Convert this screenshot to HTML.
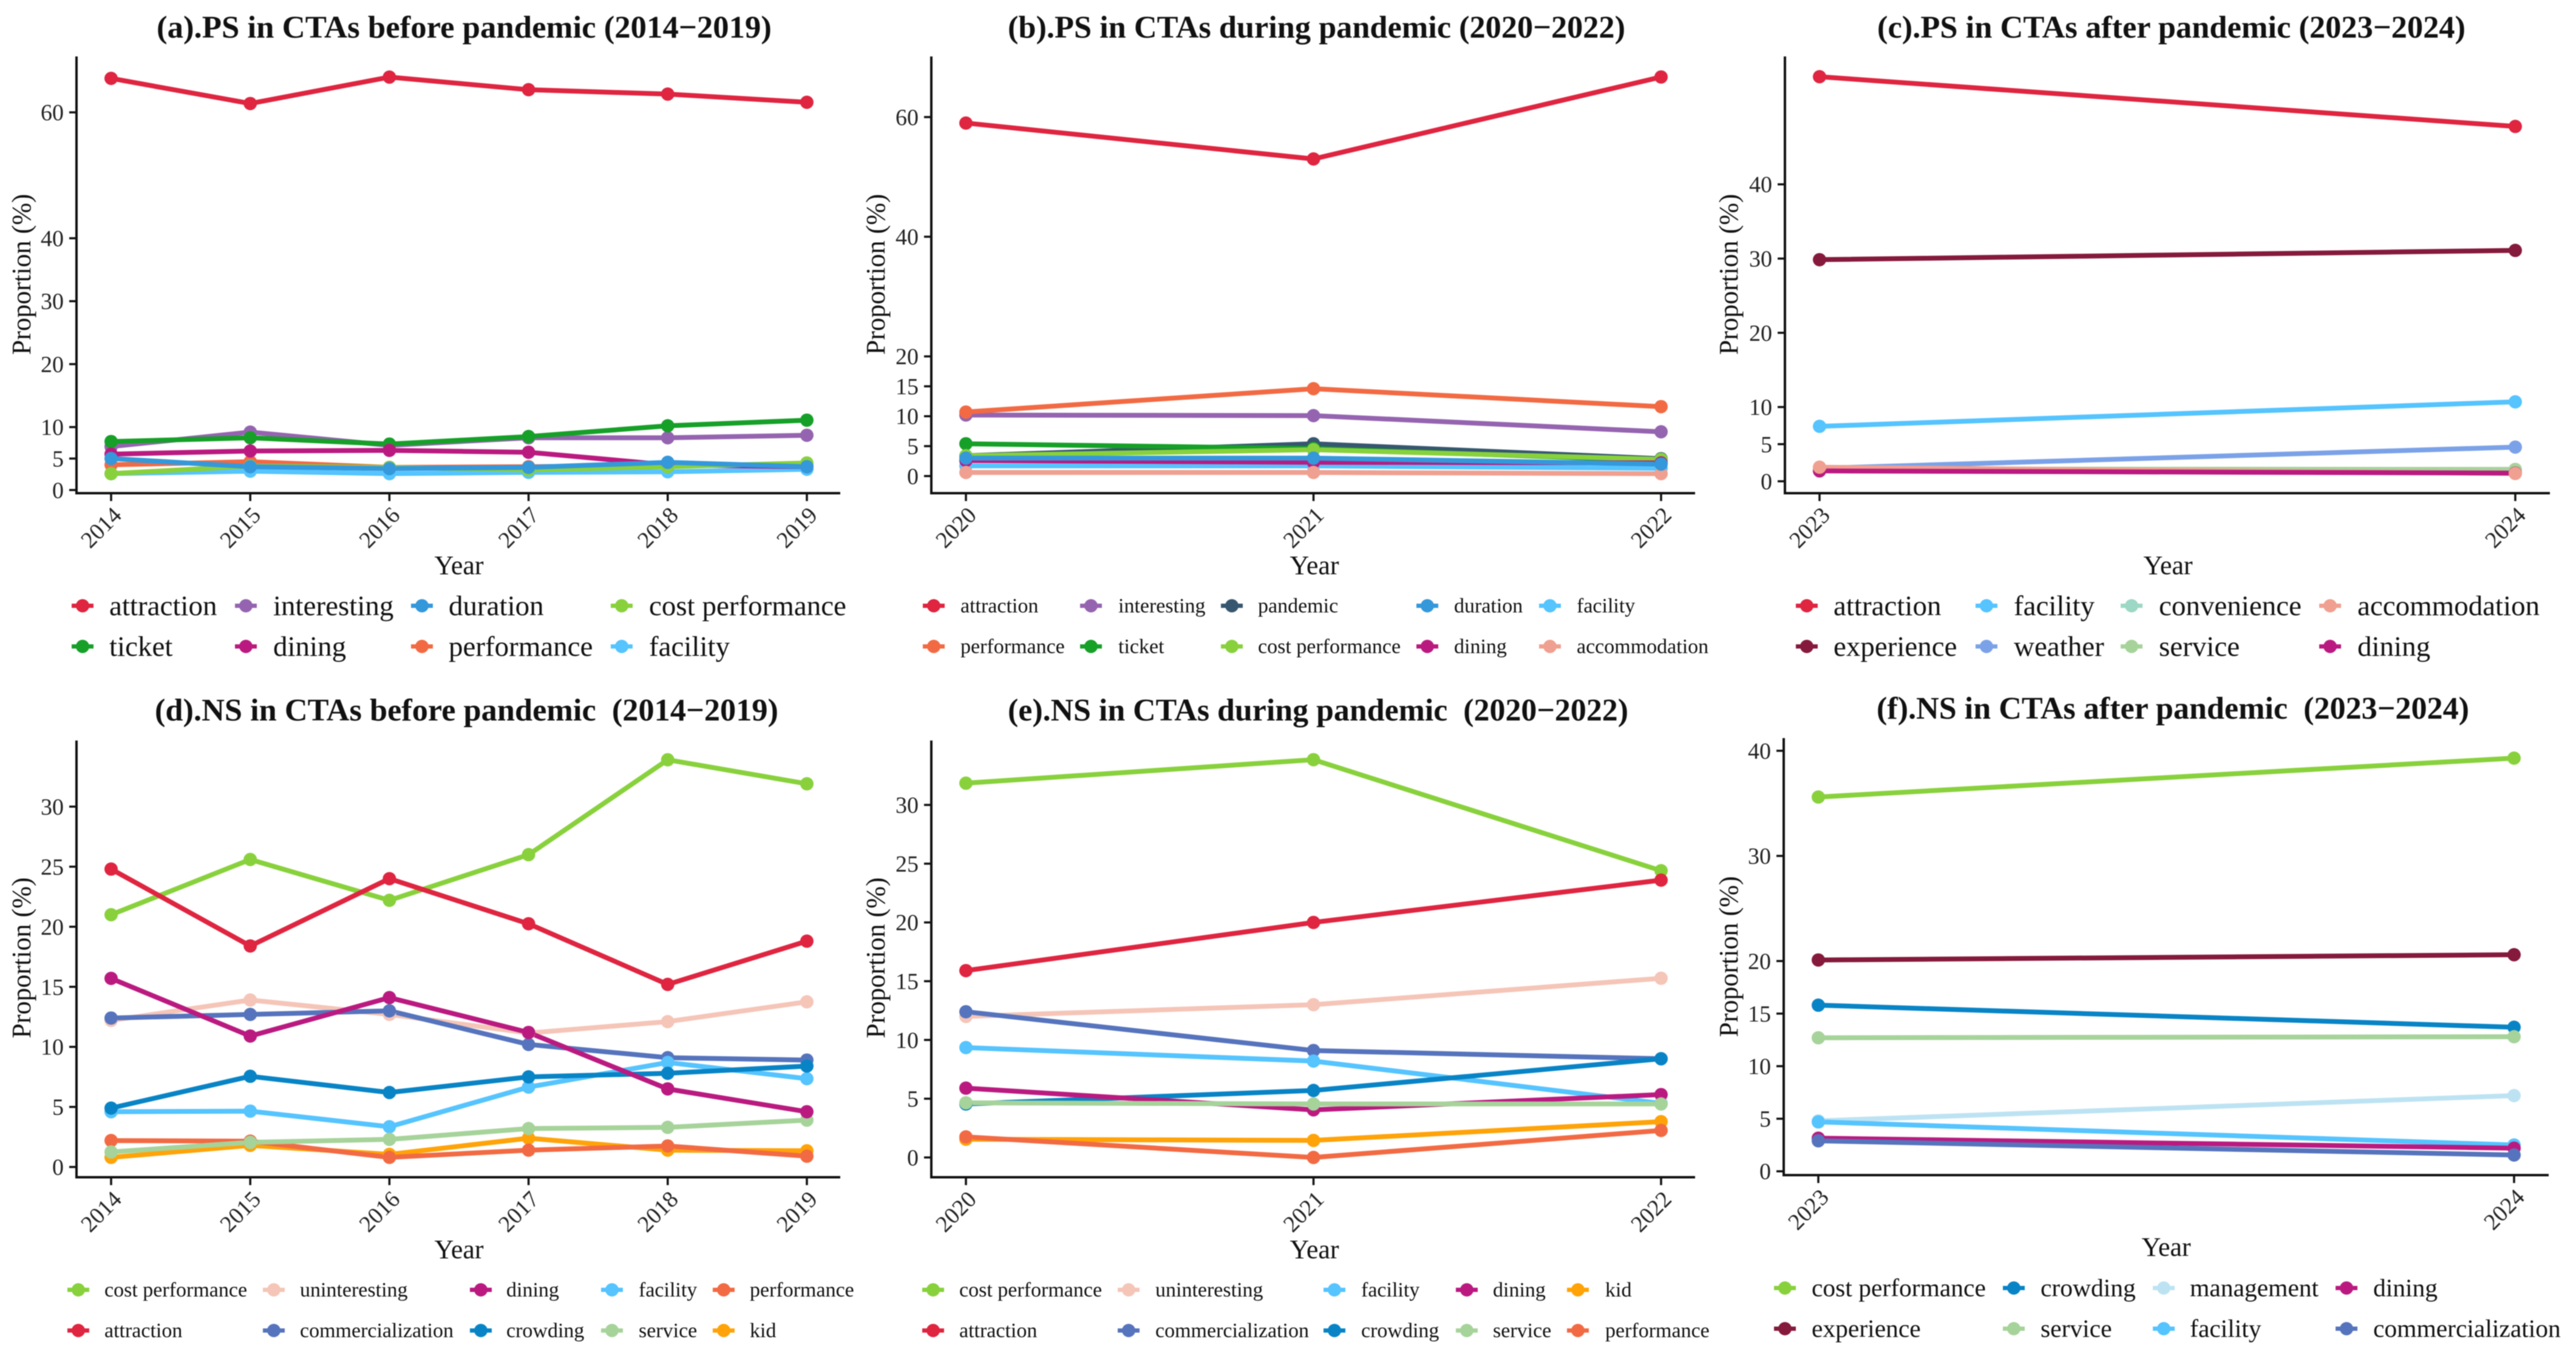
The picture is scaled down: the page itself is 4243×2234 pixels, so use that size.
<!DOCTYPE html>
<html lang="en">
<head>
<meta charset="utf-8">
<title>PS and NS in CTAs before, during and after the pandemic</title>
<style>
html,body{margin:0;padding:0;background:#fff}
svg{display:block;font-family:"Liberation Serif",serif;filter:blur(0.8px)}
</style>
</head>
<body>
<svg id="figure" xmlns="http://www.w3.org/2000/svg" width="4243" height="2234" viewBox="0 0 4243 2234"></svg>
<script>
// ---------- Panel (a) data ----------
const aYears = ['2014','2015','2016','2017','2018','2019'];
const aYTicks = [0,5,10,20,30,40,60];
const aAttraction = [65.4,61.4,65.6,63.6,62.9,61.6];
const aInteresting = [6.9,9.2,7.1,8.3,8.3,8.7];
const aTicket = [7.7,8.3,7.3,8.5,10.2,11.1];
const aFacility = [2.6,3.0,2.6,2.8,2.9,3.3];
const aPerformance = [4.0,4.5,3.6,3.7,3.9,3.9];
const aDining = [5.7,6.2,6.3,6.0,4.0,3.7];
const aCost = [2.6,3.8,3.6,3.2,3.7,4.3];
const aDuration = [5.0,3.7,3.4,3.6,4.4,3.7];
const aLegendOrder = ['attraction','ticket','interesting','dining','duration','performance','cost performance','facility'];

// ---------- Panel (b) data ----------
const bYears = ['2020','2021','2022'];
const bYTicks = [0,5,10,15,20,40,60];
const bAttraction = [59.0,53.0,66.7];
const bInteresting = [10.2,10.1,7.4];
const bPerformance = [10.7,14.6,11.6];
const bPandemic = [3.4,5.4,2.9];
const bTicket = [5.4,4.6,2.6];
const bCost = [3.4,4.4,2.8];
const bFacility = [1.7,1.7,1.3];
const bDining = [2.6,2.3,2.2];
const bAccommodation = [0.6,0.6,0.4];
const bDuration = [3.0,3.0,2.0];
const bLegendOrder = ['attraction','performance','interesting','ticket','pandemic','cost performance','duration','dining','facility','accommodation'];

// ---------- Panel (c) data ----------
const cYears = ['2023','2024'];
const cYTicks = [0,5,10,20,30,40];
const cAttraction = [54.5,47.8];
const cExperience = [29.85,31.1];
const cFacility = [7.4,10.7];
const cWeather = [1.75,4.6];
const cConvenience = [1.6,1.35];
const cService = [1.65,1.6];
const cDining = [1.4,1.1];
const cAccommodation = [1.9,1.05];
const cLegendOrder = ['attraction','experience','facility','weather','convenience','service','accommodation','dining'];

// ---------- Panel (d) data ----------
const dYears = ['2014','2015','2016','2017','2018','2019'];
const dYTicks = [0,5,10,15,20,25,30];
const dUninteresting = [12.2,13.9,12.7,11.15,12.1,13.75];
const dCommercialization = [12.4,12.7,13.0,10.2,9.1,8.9];
const dFacility = [4.6,4.65,3.35,6.65,8.7,7.35];
const dCrowding = [4.9,7.55,6.2,7.5,7.8,8.4];
const dKid = [0.8,1.8,1.05,2.4,1.4,1.35];
const dPerformance = [2.2,2.15,0.8,1.4,1.75,0.9];
const dService = [1.25,2.05,2.3,3.2,3.3,3.9];
const dDining = [15.7,10.9,14.1,11.2,6.5,4.6];
const dCost = [21.0,25.6,22.2,26.0,33.9,31.9];
const dAttraction = [24.8,18.4,24.0,20.25,15.2,18.8];
const dLegendOrder = ['cost performance','attraction','uninteresting','commercialization','dining','crowding','facility','service','performance','kid'];

// ---------- Panel (e) data ----------
const eYears = ['2020','2021','2022'];
const eYTicks = [0,5,10,15,20,25,30];
const eCost = [31.85,33.85,24.4];
const eAttraction = [15.9,20.0,23.6];
const eUninteresting = [12.0,13.0,15.25];
const eCommercialization = [12.4,9.1,8.4];
const eFacility = [9.35,8.2,4.6];
const eCrowding = [4.55,5.7,8.4];
const eDining = [5.9,4.05,5.35];
const eKid = [1.55,1.45,3.05];
const ePerformance = [1.75,0,2.3];
const eService = [4.65,4.55,4.55];
const eLegendOrder = ['cost performance','attraction','uninteresting','commercialization','facility','crowding','dining','service','kid','performance'];

// ---------- Panel (f) data ----------
const fYears = ['2023','2024'];
const fYTicks = [0,5,10,15,20,30,40];
const fCost = [35.6,39.3];
const fExperience = [20.1,20.6];
const fCrowding = [15.8,13.7];
const fService = [12.7,12.8];
const fManagement = [4.8,7.2];
const fFacility = [4.7,2.5];
const fDining = [3.15,2.2];
const fCommercialization = [2.9,1.55];
const fLegendOrder = ['cost performance','experience','crowding','service','management','facility','dining','commercialization'];

// ---------- Colours by theme ----------
const themeColors = {
  'attraction':'#DF2540','ticket':'#16A028','interesting':'#9564B0','dining':'#BA1A80',
  'duration':'#3498DB','performance':'#F26A43','cost performance':'#88D13C','facility':'#55C4FF',
  'pandemic':'#36576F','accommodation':'#F0A090','experience':'#851A3C','weather':'#7BA2E8',
  'convenience':'#9CD8C5','service':'#A6D39A','uninteresting':'#F5C5B8','commercialization':'#5674BD',
  'crowding':'#0884C6','kid':'#FFA308','management':'#BDE3F3'
};

const NS = 'http://www.w3.org/2000/svg';
const root = document.getElementById('figure');

function shape(parent, tag, attrs) {
  const el = document.createElementNS(NS, tag);
  for (const k in attrs) el.setAttribute(k, attrs[k]);
  parent.appendChild(el);
  return el;
}
function slug(s) { return s.replace(/[^a-zA-Z0-9]+/g, '-').toLowerCase(); }

function drawPanel(p) {
  const g = shape(root, 'g', {});
  
  

  const xOf = i => p.xFirst + i * (p.xLast - p.xFirst) / (p.years.length - 1);
  const yOf = v => p.yZero - v * p.yUnit;

  // title
  const title = shape(g, 'text', {x:p.titleMid, y:p.titleY, 'text-anchor':'middle', 'font-size':52, 'font-weight':'bold', fill:'#111',
    style:'white-space:pre', textLength:p.titleLen, lengthAdjust:'spacingAndGlyphs'});
  title.textContent = p.title;
  
  

  // axes
  const yAxis = shape(g, 'line', {x1:p.axisLeft, x2:p.axisLeft, y1:p.axisTop, y2:p.axisBottom + 2, stroke:'#111', 'stroke-width':4});
  
  
  const xAxis = shape(g, 'line', {x1:p.axisLeft, x2:p.axisRight, y1:p.axisBottom, y2:p.axisBottom, stroke:'#111', 'stroke-width':4});
  
  

  // y ticks
  p.yTicks.forEach(t => {
    const yy = yOf(t);
    const tick = shape(g, 'line', {x1:p.axisLeft - 12, x2:p.axisLeft, y1:yy, y2:yy, stroke:'#111', 'stroke-width':3.5});
    
    
    const lab = shape(g, 'text', {x:p.axisLeft - 21, y:yy + 13, 'text-anchor':'end', 'font-size':38, fill:'#222'});
    lab.textContent = t;
    
    
  });

  // x ticks
  p.years.forEach((yr, i) => {
    const xx = xOf(i);
    const tick = shape(g, 'line', {x1:xx, x2:xx, y1:p.axisBottom, y2:p.axisBottom + 13, stroke:'#111', 'stroke-width':3.5});
    
    
    const cx = xx - 16, cy = p.axisBottom + 57;
    const lab = shape(g, 'text', {x:cx, y:cy + 12, 'text-anchor':'middle', 'font-size':38, fill:'#222',
      transform:'rotate(-45 ' + cx + ' ' + cy + ')'});
    lab.textContent = yr;
    
    
  });

  // axis titles
  const xt = shape(g, 'text', {x:p.yearX, y:p.yearY + 15, 'text-anchor':'middle', 'font-size':44, fill:'#111'});
  xt.textContent = 'Year';
  
  
  const yt = shape(g, 'text', {x:p.propX + 12, y:p.propY, 'text-anchor':'middle', 'font-size':44, fill:'#111',
    transform:'rotate(-90 ' + (p.propX + 12) + ' ' + p.propY + ')'});
  yt.textContent = 'Proportion (%)';
  
  

  // lines first, then points (drawn from data arrays through the axis functions)
  const lineOrder = p.series.filter(s => s[0] !== p.lineLast).concat(p.series.filter(s => s[0] === p.lineLast));
  lineOrder.forEach(s => {
    const pts = s[1].map((v, i) => xOf(i).toFixed(1) + ',' + yOf(v).toFixed(1)).join(' ');
    const line = shape(g, 'polyline', {points:pts, fill:'none', stroke:themeColors[s[0]], 'stroke-width':8, 'stroke-linejoin':'round', 'stroke-linecap':'round'});
    
    
  });
  p.series.forEach(s => {
    s[1].forEach((v, i) => {
      const dot = shape(g, 'circle', {cx:xOf(i), cy:yOf(v), r:11, fill:themeColors[s[0]]});
      
      
    });
  });

  // legend (filled column by column, two rows)
  p.legend.forEach((name, n) => {
    const col = Math.floor(n / 2), row = n % 2;
    const kx = p.legKeyX[col], lx = p.legLabelX[col], ly = p.legRows[row];
    const entry = shape(g, 'g', {});
    
    
    const kl = shape(entry, 'line', {x1:kx - 18, x2:kx + 18, y1:ly, y2:ly, stroke:themeColors[name], 'stroke-width':7});
    
    
    const kd = shape(entry, 'circle', {cx:kx, cy:ly, r:11, fill:themeColors[name]});
    
    
    const lab = shape(entry, 'text', {x:lx, y:ly + p.legFont * 0.33, 'font-size':p.legFont, fill:'#111'});
    lab.textContent = name;
    
    
  });
}

drawPanel({id:'a', title:'(a).PS in CTAs before pandemic (2014\u22122019)', titleMid:764.5, titleY:62, titleLen:1013,
  years:aYears, yTicks:aYTicks, legend:aLegendOrder,
  series:[['attraction',aAttraction],['interesting',aInteresting],['ticket',aTicket],['facility',aFacility],['performance',aPerformance],['dining',aDining],['cost performance',aCost],['duration',aDuration]],
  xFirst:183, xLast:1329, yZero:807.3, yUnit:10.37, axisLeft:126, axisRight:1384, axisTop:93, axisBottom:812.5,
  yearX:756, yearY:931, propX:38, propY:452, legFont:47,
  legKeyX:[136,405,695,1024], legLabelX:[180,450,739,1069], legRows:[998,1065]});

drawPanel({id:'b', title:'(b).PS in CTAs during pandemic (2020\u22122022)', titleMid:2168.5, titleY:62, titleLen:1017,
  years:bYears, yTicks:bYTicks, legend:bLegendOrder,
  series:[['attraction',bAttraction],['interesting',bInteresting],['performance',bPerformance],['pandemic',bPandemic],['ticket',bTicket],['cost performance',bCost],['facility',bFacility],['dining',bDining],['accommodation',bAccommodation],['duration',bDuration]],
  xFirst:1591, xLast:2736, yZero:784.3, yUnit:9.857, axisLeft:1534, axisRight:2792, axisTop:93, axisBottom:812.5,
  yearX:2165, yearY:931, propX:1445, propY:452, legFont:34,
  legKeyX:[1538,1797,2029,2351,2553], legLabelX:[1582,1842,2072,2395,2597], legRows:[998,1065]});

drawPanel({id:'c', title:'(c).PS in CTAs after pandemic (2023\u22122024)', titleMid:3576.5, titleY:62, titleLen:969,
  years:cYears, yTicks:cYTicks, legend:cLegendOrder, lineLast:'dining',
  series:[['attraction',cAttraction],['experience',cExperience],['facility',cFacility],['weather',cWeather],['convenience',cConvenience],['service',cService],['dining',cDining],['accommodation',cAccommodation]],
  xFirst:2997, xLast:4143, yZero:792.9, yUnit:12.23, axisLeft:2940, axisRight:4200, axisTop:93, axisBottom:812.5,
  yearX:3571, yearY:931, propX:2850, propY:452, legFont:47,
  legKeyX:[2976,3272,3511,3838], legLabelX:[3020,3317,3556,3883], legRows:[998,1065]});

drawPanel({id:'d', title:'(d).NS in CTAs before pandemic  (2014\u22122019)', titleMid:768.5, titleY:1187, titleLen:1027,
  years:dYears, yTicks:dYTicks, legend:dLegendOrder,
  series:[['uninteresting',dUninteresting],['commercialization',dCommercialization],['facility',dFacility],['crowding',dCrowding],['kid',dKid],['performance',dPerformance],['service',dService],['dining',dDining],['cost performance',dCost],['attraction',dAttraction]],
  xFirst:183, xLast:1329, yZero:1922.6, yUnit:19.79, axisLeft:126, axisRight:1384, axisTop:1220, axisBottom:1939.5,
  yearX:756, yearY:2058, propX:38, propY:1578, legFont:34,
  legKeyX:[129,451,792,1008,1192], legLabelX:[172,494,834,1052,1235], legRows:[2125,2192]});

drawPanel({id:'e', title:'(e).NS in CTAs during pandemic  (2020\u22122022)', titleMid:2171, titleY:1187, titleLen:1022,
  years:eYears, yTicks:eYTicks, legend:eLegendOrder,
  series:[['cost performance',eCost],['attraction',eAttraction],['uninteresting',eUninteresting],['commercialization',eCommercialization],['facility',eFacility],['crowding',eCrowding],['dining',eDining],['kid',eKid],['performance',ePerformance],['service',eService]],
  xFirst:1591, xLast:2736, yZero:1906.9, yUnit:19.36, axisLeft:1534, axisRight:2792, axisTop:1220, axisBottom:1939.5,
  yearX:2165, yearY:2058, propX:1445, propY:1578, legFont:34,
  legKeyX:[1537,1859,2198,2416,2599], legLabelX:[1580,1903,2242,2459,2644], legRows:[2125,2192]});

drawPanel({id:'f', title:'(f).NS in CTAs after pandemic  (2023\u22122024)', titleMid:3579, titleY:1184, titleLen:976,
  years:fYears, yTicks:fYTicks, legend:fLegendOrder,
  series:[['cost performance',fCost],['experience',fExperience],['crowding',fCrowding],['service',fService],['management',fManagement],['facility',fFacility],['dining',fDining],['commercialization',fCommercialization]],
  xFirst:2995, xLast:4141, yZero:1929.7, yUnit:17.32, axisLeft:2938, axisRight:4198, axisTop:1216, axisBottom:1936,
  yearX:3568, yearY:2054, propX:2850, propY:1576, legFont:41.5,
  legKeyX:[2940,3317,3564,3865], legLabelX:[2984,3361,3607,3909], legRows:[2122,2189]});
</script>
</body>
</html>
